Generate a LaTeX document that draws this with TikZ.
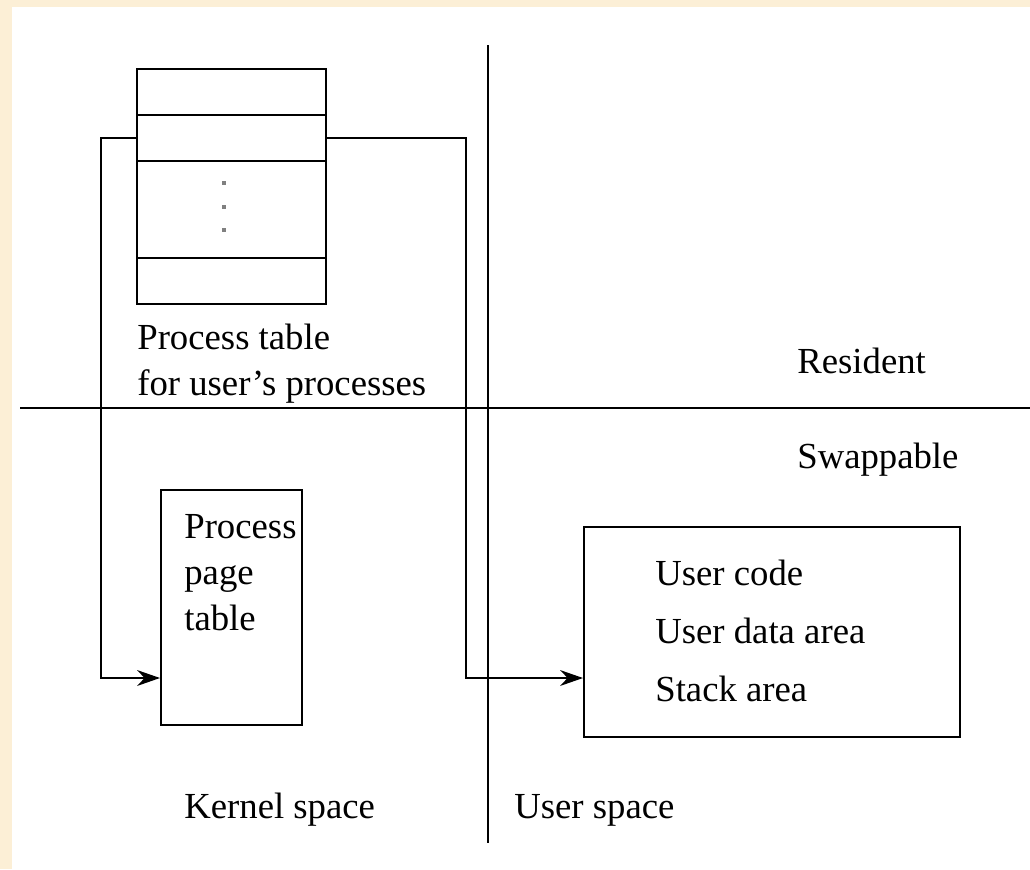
\documentclass[tikz,border=0pt]{standalone}
\usepackage{fontspec}
\setmainfont{Liberation Serif}
\usepackage{tikz}
\usetikzlibrary{arrows.meta}
\definecolor{parchment}{RGB}{252,239,214}
\tikzstyle{cell}=[draw,%
                  rectangle,%
                  line width    = 1.1pt,%
                  inner sep     = 0pt,%
                  anchor        = north west]
\tikzstyle{label}=[inner sep=0pt, anchor=base west, align=left,%
                   font=\fontsize{20.9}{26.1}\selectfont]
\tikzstyle{arr}=[line width=1.1pt,-{Stealth[length=13pt,width=9pt]}]

\begin{document}
\begin{tikzpicture}[x=0.02cm,y=-0.02cm]
            % page and background
            \fill[parchment] (0,0) rectangle (1030,869);
            \fill[white] (12,7) rectangle (1030,869);
            \useasboundingbox (0,0) rectangle (1030,869);
            % process table
            \node[cell,minimum width=189*0.02cm,minimum height=46*0.02cm] (row1) at (136,68) {};
            \node[cell,minimum width=189*0.02cm,minimum height=46*0.02cm] (row2) at (136,114) {};
            \node[cell,minimum width=189*0.02cm,minimum height=97*0.02cm] (rows) at (136,160) {};
            \node[cell,minimum width=189*0.02cm,minimum height=46*0.02cm] (rown) at (136,257) {};
            \foreach \y in {183,207,230}
                \fill[gray] (222,\y-2) rectangle (226,\y+2);
            \node[label] (ptab) at (137,395) {Process table\\for user's processes};
            % page table and user area
            \node[cell,minimum width=141*0.02cm,minimum height=235*0.02cm] (pagetab) at (160,489) {};
            \node[label] (pagetext) at (184,630) {Process\\page\\table};
            \node[cell,minimum width=376*0.02cm,minimum height=210*0.02cm] (user) at (583,526) {};
            \node[label,font=\fontsize{20.9}{33}\selectfont] (usertext) at (655,701) {User code\\User data area\\Stack area};
            % dividing lines
            \draw[line width=1.1pt] (488,45) -- (488,843);
            \draw[line width=1.1pt] (20,408) -- (1030,408);
            \node[label] (res) at (797,373) {Resident};
            \node[label] (swap) at (797,468) {Swappable};
            \node[label] (kern) at (184,818) {Kernel space};
            \node[label] (uspace) at (514,818) {User space};
            % pointers
            \coordinate (entry) at (0,678);
            \draw[arr] (row2.west) -- ++(-35,0) |- (pagetab.west |- entry);
            \draw[arr] (row2.east) -- ++(139,0) |- (user.west |- entry);
\end{tikzpicture}
\end{document}
